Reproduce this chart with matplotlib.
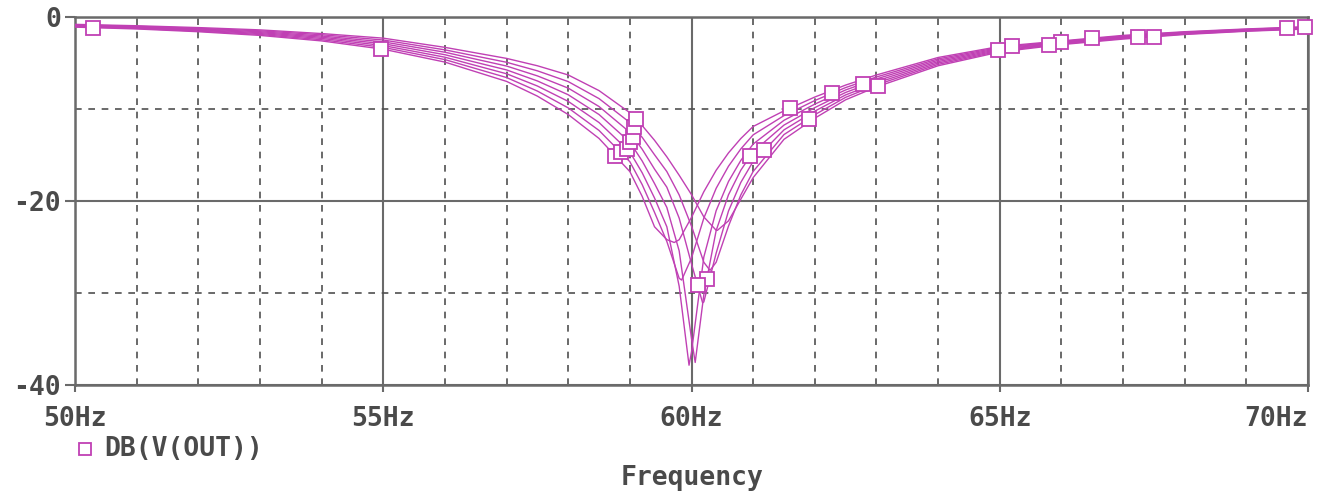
"""PSpice style plot of the notch filter sweep: DB(V(OUT)) against frequency."""
import numpy as np
import matplotlib
matplotlib.use('Agg')
import matplotlib.pyplot as plt
from matplotlib.ticker import MultipleLocator

# frequency points of the sweep (Hz)
freq = [50, 51, 52, 53, 54, 55, 56, 57, 57.5, 58, 58.5,
        59.0, 59.2, 59.4, 59.6, 59.8, 60.0, 60.2, 60.4, 60.6, 60.8, 61.0,
        61.5, 62, 62.5, 63, 64, 65, 66, 67, 68, 69, 70]

# DB(V(OUT)) of every run of the parametric sweep
db_run1 = [-1.10, -1.30, -1.60, -2.00, -2.60, -3.50, -4.90, -7.00, -8.60, -10.60, -13.20,
           -16.80, -19.50, -22.80, -24.20, -24.21, -21.78, -18.99, -16.66, -14.77, -13.21, -11.90,
           -10.20, -8.70, -7.40, -6.30, -4.40, -3.20, -2.60, -2.00, -1.60, -1.30, -1.05]
db_run2 = [-1.05, -1.24, -1.53, -1.90, -2.47, -3.30, -4.63, -6.58, -8.05, -9.88, -12.33,
           -15.73, -18.22, -21.23, -24.40, -28.40, -26.19, -21.86, -18.62, -16.22, -14.34, -12.81,
           -10.72, -9.08, -7.67, -6.52, -4.55, -3.30, -2.67, -2.07, -1.65, -1.34, -1.09]
db_run3 = [-1.00, -1.18, -1.45, -1.80, -2.33, -3.10, -4.37, -6.17, -7.50, -9.17, -11.47,
           -14.67, -16.93, -19.67, -22.80, -29.26, -36.42, -26.09, -21.05, -17.88, -15.59, -13.81,
           -11.23, -9.47, -7.93, -6.73, -4.70, -3.40, -2.73, -2.13, -1.70, -1.38, -1.13]
db_run4 = [-0.95, -1.13, -1.38, -1.70, -2.20, -2.90, -4.10, -5.75, -6.95, -8.45, -10.60,
           -13.60, -15.65, -18.10, -20.70, -25.42, -34.95, -30.18, -23.21, -19.32, -16.65, -14.65,
           -11.75, -9.85, -8.20, -6.95, -4.85, -3.50, -2.80, -2.20, -1.75, -1.43, -1.18]
db_run5 = [-0.90, -1.07, -1.30, -1.60, -2.07, -2.70, -3.83, -5.33, -6.40, -7.73, -9.73,
           -12.53, -14.37, -16.53, -18.50, -21.86, -26.83, -30.97, -25.67, -21.09, -17.98, -15.70,
           -12.27, -10.23, -8.47, -7.17, -5.00, -3.60, -2.87, -2.27, -1.80, -1.47, -1.22]
db_run6 = [-0.85, -1.01, -1.23, -1.50, -1.93, -2.50, -3.57, -4.92, -5.85, -7.02, -8.87,
           -11.47, -13.08, -14.97, -16.80, -19.34, -22.73, -26.66, -26.66, -22.73, -19.34, -16.79,
           -12.78, -10.62, -8.73, -7.38, -5.15, -3.70, -2.93, -2.33, -1.85, -1.51, -1.26]
db_run7 = [-0.80, -0.95, -1.15, -1.40, -1.80, -2.30, -3.30, -4.50, -5.30, -6.30, -8.00,
           -10.40, -11.80, -13.40, -15.20, -17.20, -19.31, -21.73, -23.18, -22.16, -19.80, -17.46,
           -13.30, -11.00, -9.00, -7.60, -5.30, -3.80, -3.00, -2.40, -1.90, -1.55, -1.30]

# bottom of each notch
notch_freq = [59.72, 59.84, 59.96, 60.06, 60.18, 60.30, 60.42]
notch_db = [-24.51, -28.59, -37.85, -37.55, -31.06, -27.54, -23.19]

# where PSpice put the square symbols on each trace
marks_run1 = [50.3, 54.96, 58.76, 61.6, 66.5]
marks_run2 = [58.85, 62.28, 65.2, 69.95]
marks_run3 = [58.95, 62.78, 66.0, 69.66]
marks_run4 = [59.0, 60.25, 60.95, 64.97]
marks_run5 = [59.05, 60.1, 61.18, 67.25]
marks_run6 = [59.06, 61.9, 65.8]
marks_run7 = [59.1, 63.02, 67.5]

x_ticks = [50, 55, 60, 65, 70]
x_labels = ['50Hz', '55Hz', '60Hz', '65Hz', '70Hz']
y_ticks = [0, -20, -40]
y_labels = ['0', '-20', '-40']

trace = '#c040b4'  # magenta trace colour
grey = '#6a6a6a'  # frame and grid
text_grey = '#4a4a4a'
mono = ['DejaVu Sans Mono']

runs = [db_run1, db_run2, db_run3, db_run4, db_run5, db_run6, db_run7]
marks = [marks_run1, marks_run2, marks_run3, marks_run4, marks_run5, marks_run6, marks_run7]

fig = plt.figure(figsize=(13.21, 4.93), dpi=100)
ax = fig.add_axes([75 / 1321, 1 - 385 / 493, 1233 / 1321, 368 / 493])

f = np.array(freq)
for db, fn, dn, mk in zip(runs, notch_freq, notch_db, marks):
    i = np.searchsorted(f, fn)  # put the notch bottom between the sweep points
    fx = np.insert(f, i, fn)
    dy = np.insert(np.array(db), i, dn)
    ax.plot(fx, dy, color=trace, lw=1.0, zorder=3)
    ax.plot(mk, np.interp(mk, fx, dy), 's', color=trace, mfc='white', mec=trace,
            ms=10, mew=1.3, zorder=4, clip_on=False)

ax.set_xlim(50, 70)
ax.set_ylim(-40, 0)
ax.xaxis.set_major_locator(MultipleLocator(5))
ax.xaxis.set_minor_locator(MultipleLocator(1))
ax.yaxis.set_major_locator(MultipleLocator(20))
ax.yaxis.set_minor_locator(MultipleLocator(10))
ax.set_xticks(x_ticks)
ax.set_xticklabels(x_labels)
ax.set_yticks(y_ticks)
ax.set_yticklabels(y_labels)

# solid grid on the major ticks, dashed on the minor ones
ax.grid(which='major', color=grey, lw=1.5, ls='-', zorder=1)
ax.grid(which='minor', color='#505050', lw=1.2, ls=(0, (4, 4)), zorder=1)
ax.set_axisbelow(True)

for s in ax.spines.values():
    s.set_color(grey)
    s.set_linewidth(1.8)

ax.tick_params(which='major', axis='x', length=5, width=1.5, color=grey, pad=10)
ax.tick_params(which='major', axis='y', length=7, width=1.5, color=grey, pad=3)
ax.tick_params(which='minor', length=0)
for lab in ax.get_xticklabels() + ax.get_yticklabels():
    lab.set_family(mono)
    lab.set_fontsize(19)
    lab.set_fontweight('bold')
    lab.set_color(text_grey)
ax.get_xticklabels()[-1].set_horizontalalignment('right')  # 70Hz sits inside the edge

# legend entry and axis title, placed like PSpice does
fig.lines.append(plt.Line2D([85 / 1321], [1 - 449 / 493], marker='s', ms=8.5, mfc='white',
                            mec=trace, mew=1.3, ls='none', transform=fig.transFigure))
fig.text(104 / 1321, 1 - 449 / 493, 'DB(V(OUT))', family=mono, fontsize=19, fontweight='bold',
         color=text_grey, ha='left', va='center')
fig.text(692 / 1321, 1 - 478 / 493, 'Frequency', family=mono, fontsize=19, fontweight='bold',
         color=text_grey, ha='center', va='center')

fig.savefig('out.png', dpi=100, facecolor='white')
